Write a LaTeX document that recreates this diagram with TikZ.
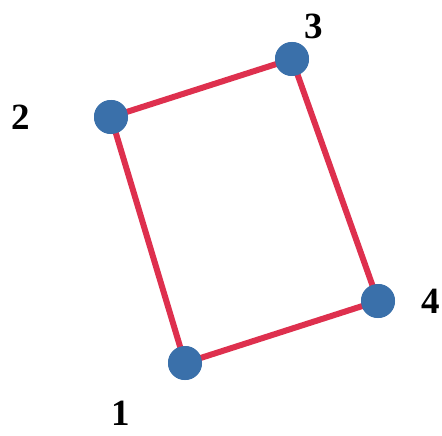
\documentclass[tikz,border=0pt]{standalone}
\usepackage{fontspec}
\setmainfont{Liberation Serif}
\definecolor{edgered}{RGB}{222,48,78}
\definecolor{dotblue}{RGB}{58,112,170}
\begin{document}
\begin{tikzpicture}[x=1pt,y=-1pt,
  vert/.style={circle,fill=dotblue,minimum size=34pt,inner sep=0pt},
  lab/.style={font=\fontsize{37}{37}\selectfont\bfseries,inner sep=0pt},
  edge/.style={draw=edgered,line width=6pt}]
\useasboundingbox (0,0) rectangle (442,436);
\node[vert] (n1) at (185,363) {};
\node[vert] (n2) at (111,117) {};
\node[vert] (n3) at (292,59) {};
\node[vert] (n4) at (378,301) {};
\draw[edge] (n1.center) -- (n2.center) -- (n3.center) -- (n4.center) -- cycle;
\foreach \n in {n1,n2,n3,n4}{\node[vert] at (\n) {};}
\node[lab] (l1) at (121,413) {1};
\node[lab] (l2) at (21,117) {2};
\node[lab] (l3) at (314,26) {3};
\node[lab] (l4) at (431,301) {4};
\end{tikzpicture}
\end{document}
